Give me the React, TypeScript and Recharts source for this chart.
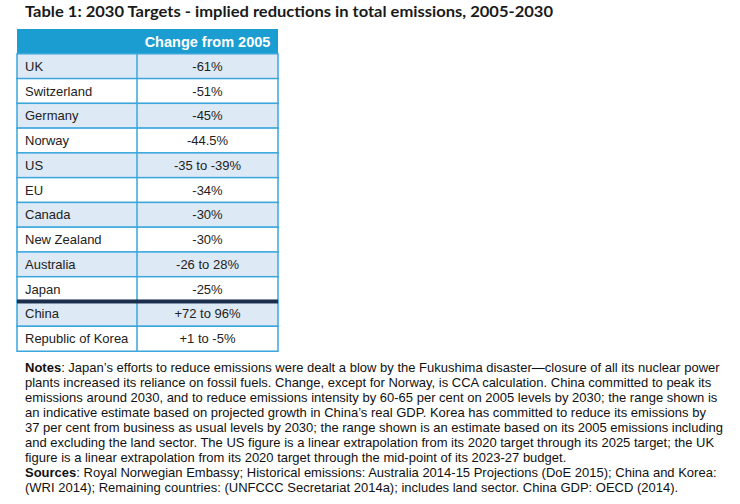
import { Bar, BarChart, XAxis, YAxis } from "recharts";

const title =
  "Table 1: 2030 Targets - implied reductions in total emissions, 2005-2030";
const headerLabel = "Change from 2005";

const countries = [
  "UK",
  "Switzerland",
  "Germany",
  "Norway",
  "US",
  "EU",
  "Canada",
  "New Zealand",
  "Australia",
  "Japan",
  "China",
  "Republic of Korea",
];

const changes = [
  "-61%",
  "-51%",
  "-45%",
  "-44.5%",
  "-35 to -39%",
  "-34%",
  "-30%",
  "-30%",
  "-26 to 28%",
  "-25%",
  "+72 to 96%",
  "+1 to -5%",
];

// first row below the thick rule
const splitAt = "China";

const notesLines = [
  ": Japan’s efforts to reduce emissions were dealt a blow by the Fukushima disaster—closure of all its nuclear power",
  "plants increased its reliance on fossil fuels. Change, except for Norway, is CCA calculation. China committed to peak its",
  "emissions around 2030, and to reduce emissions intensity by 60-65 per cent on 2005 levels by 2030; the range shown is",
  "an indicative estimate based on projected growth in China’s real GDP. Korea has committed to reduce its emissions by",
  "37 per cent from business as usual levels by 2030; the range shown is an estimate based on its 2005 emissions including",
  "and excluding the land sector. The US figure is a linear extrapolation from its 2020 target through its 2025 target; the UK",
  "figure is a linear extrapolation from its 2020 target through the mid-point of its 2023-27 budget.",
];

const sourcesLines = [
  ": Royal Norwegian Embassy; Historical emissions: Australia 2014-15 Projections (DoE 2015); China and Korea:",
  "(WRI 2014); Remaining countries: (UNFCCC Secretariat 2014a); includes land sector. China GDP: OECD (2014).",
];

type Row = { country: string; change: string; kind: string; span: number };

// each row spans the full table width
const rows: Row[] = [
  { country: "", change: headerLabel, kind: "header", span: 1 },
  ...countries.map((c, i) => ({
    country: c,
    change: changes[i],
    kind: i % 2 === 0 ? "shade" : "plain",
    span: 1,
  })),
];

const HEADER_BLUE = "#1c9dd2";
const SHADE = "#dde9f5";
const BORDER = "#3aa6dc";
const NAVY = "#1b2f4d";
const FONT = "Arial, 'Liberation Sans', sans-serif";
const COL1 = 120;

function RowCell(props: any) {
  const { x, y, width, height, payload } = props;
  const p: Row = payload;
  const mid = y + height / 2;
  const rightCx = x + COL1 + (width - COL1) / 2;
  if (p.kind === "header") {
    return (
      <g>
        <rect x={x} y={y} width={width} height={height} fill={HEADER_BLUE} />
        <text
          x={rightCx}
          y={mid + 5}
          textAnchor="middle"
          fontFamily={FONT}
          fontWeight="bold"
          fontSize={14.5}
          fill="#ffffff"
        >
          {p.change}
        </text>
      </g>
    );
  }
  return (
    <g>
      <rect
        x={x}
        y={y}
        width={width}
        height={height}
        fill={p.kind === "shade" ? SHADE : "#ffffff"}
        stroke={BORDER}
        strokeWidth={1.5}
      />
      <line
        x1={x + COL1}
        x2={x + COL1}
        y1={y}
        y2={y + height}
        stroke={BORDER}
        strokeWidth={1.5}
      />
      {p.country === splitAt && (
        <rect x={x} y={y - 2} width={width} height={4} fill={NAVY} />
      )}
      <text x={x + 8} y={mid + 4.5} fontFamily={FONT} fontSize={13} fill="#222">
        {p.country}
      </text>
      <text
        x={rightCx}
        y={mid + 4.5}
        textAnchor="middle"
        fontFamily={FONT}
        fontSize={13}
        fill="#222"
      >
        {p.change}
      </text>
    </g>
  );
}

export default function App() {
  return (
    <div style={{ position: "absolute", left: 0, top: 0, background: "#fff" }}>
      <BarChart
        width={740}
        height={504}
        data={rows}
        layout="vertical"
        barCategoryGap={0}
        margin={{ top: 29, bottom: 153, left: 17, right: 462 }}
      >
        <XAxis type="number" hide domain={[0, 1]} />
        <YAxis type="category" dataKey="country" hide />
        <Bar dataKey="span" shape={RowCell} isAnimationActive={false} />
        <text
          x={25}
          y={17}
          fontFamily="Lato, 'Open Sans', sans-serif"
          fontWeight="bold"
          fontSize={16}
          fill="#1a1a1a"
          textLength={528}
          lengthAdjust="spacingAndGlyphs"
        >
          {title}
        </text>
        <g fontFamily={FONT} fontSize={13} fill="#111">
          {notesLines.map((l, i) => (
            <text key={"n" + i} x={25} y={372 + i * 15}>
              {i === 0 && <tspan fontWeight="bold">Notes</tspan>}
              {l}
            </text>
          ))}
          {sourcesLines.map((l, i) => (
            <text key={"s" + i} x={25} y={477 + i * 15}>
              {i === 0 && <tspan fontWeight="bold">Sources</tspan>}
              {l}
            </text>
          ))}
        </g>
      </BarChart>
    </div>
  );
}
